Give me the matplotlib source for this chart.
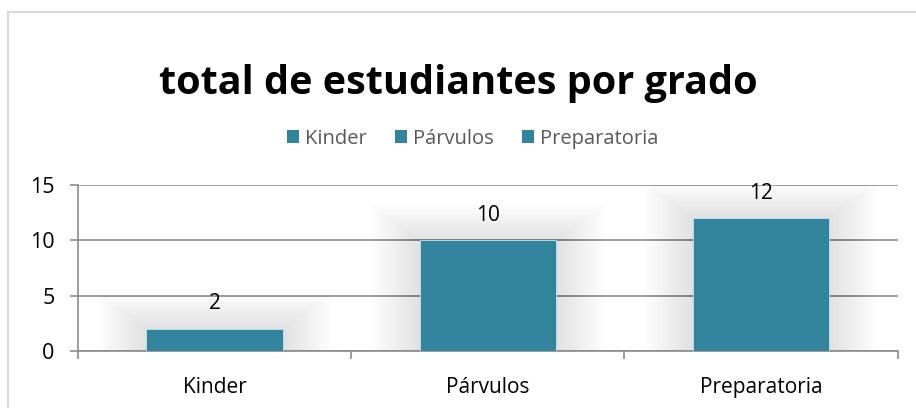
import matplotlib
matplotlib.use("Agg")
import numpy as np
from matplotlib import pyplot as plt
from matplotlib.patches import Patch, Rectangle

# data
grados = ["Kinder", "Párvulos", "Preparatoria"]
totales = [2, 10, 12]
y_ticks = [0, 5, 10, 15]
titulo = "total de estudiantes por grado"

bar_color = "#31849B"
grid_color = "#8C8C8C"
text_gray = "#595959"

plt.rcParams['font.family'] = ['Open Sans', 'DejaVu Sans']

fig = plt.figure(figsize=(9.16, 4.08), dpi=100)
ax = fig.add_axes((0.0852, 0.1397, 0.8948, 0.4069))

x = np.arange(len(grados))
width = 0.5

# soft glow behind bars
for k in range(30):
    pad = 0.006 * (k + 1)
    ax.bar(x, np.array(totales) + 0.11 * (k + 1), width=width + 2 * pad,
           bottom=0, color="black", alpha=0.004, zorder=1, linewidth=0)

ax.bar(x, totales, width=width, color=bar_color, zorder=3,
       edgecolor="#BFE6F0", linewidth=0.6)

for xi, v in zip(x, totales):
    ax.annotate(str(v), (xi, v), xytext=(0, 18), textcoords="offset points",
                ha="center", va="center", fontsize=15, color="black", zorder=5)

ax.set_xlim(-0.5, len(grados) - 0.5)
ax.set_ylim(0, 15)
ax.set_yticks(y_ticks)
ax.yaxis.grid(True, color=grid_color, linewidth=1.2, zorder=0)
ax.set_axisbelow(True)

# x ticks at category boundaries, labels at centres
ax.set_xticks(np.arange(len(grados) + 1) - 0.5)
ax.set_xticklabels([])
ax.set_xticks(x, minor=True)
ax.set_xticklabels(grados, minor=True)
ax.tick_params(axis="x", which="minor", length=0, pad=19, labelsize=15)
ax.tick_params(axis="x", which="major", length=6, color=grid_color, width=1.2)
ax.tick_params(axis="y", length=6, color=grid_color, width=1.2, labelsize=15.5, pad=11)

for side in ["top", "right"]:
    ax.spines[side].set_visible(False)
for side in ["left", "bottom"]:
    ax.spines[side].set_color(grid_color)
    ax.spines[side].set_linewidth(1.2)

fig.text(0.5, 0.795, titulo, ha="center", va="center", fontsize=28.5,
         fontweight="bold", color="black")

handles = [Patch(facecolor=bar_color, edgecolor="none") for _ in grados]
leg = fig.legend(handles, grados, loc="center", bbox_to_anchor=(0.516, 0.66),
                 ncol=3, frameon=False, fontsize=14.5, handlelength=0.6,
                 handleheight=0.6, handletextpad=0.3, columnspacing=1.4)
for t in leg.get_texts():
    t.set_color(text_gray)

# outer chart border
fig.add_artist(Rectangle((8 / 916, -0.02), 1.0, 1 - 12 / 408 + 0.02,
                         transform=fig.transFigure, fill=False,
                         edgecolor="#D9D9D9", linewidth=1.5))

fig.savefig("out.png", dpi=100)
